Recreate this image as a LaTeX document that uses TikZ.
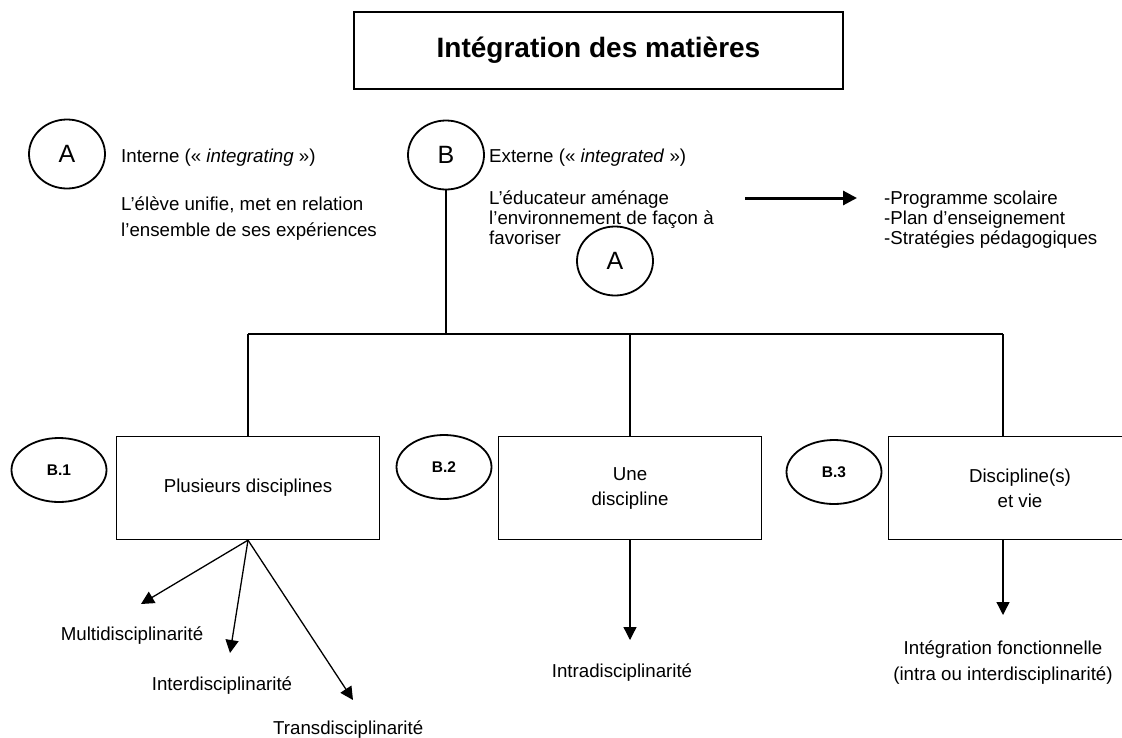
\documentclass[tikz,border=0pt]{standalone}
\usepackage{fontspec}
\setmainfont{Liberation Sans}
\usetikzlibrary{shapes.geometric,arrows.meta}
\begin{document}
\begin{tikzpicture}[x=1pt,y=-1pt,
  txt/.style={font=\fontsize{18.7}{22}\selectfont, inner sep=0pt, anchor=base west},
  ctxt/.style={font=\fontsize{18.7}{22}\selectfont, inner sep=0pt, anchor=base},
  circ/.style={draw, line width=1.8pt, ellipse, minimum width=76pt, minimum height=69pt, inner sep=0pt, font=\fontsize{25}{25}\selectfont},
  tag/.style={draw, line width=1.8pt, ellipse, minimum width=95pt, minimum height=64pt, inner sep=0pt, font=\bfseries\fontsize{15.5}{15.5}\selectfont},
  box/.style={draw, line width=1.3pt, minimum width=263pt, minimum height=103pt, align=center, inner sep=0pt, font=\fontsize{18.7}{25}\selectfont},
  conn/.style={line width=1.3pt},
  arr/.style={line width=1.3pt, -{Triangle[length=13pt,width=13pt]}},
]
\useasboundingbox (0,0) rectangle (1122,737);
\fill[white] (0,0) rectangle (1122,737);

% title
\node[draw, line width=1.5pt, minimum width=489pt, minimum height=77pt, inner sep=0pt,
      font=\bfseries\fontsize{28}{28}\selectfont] (title) at (598.5,50.5) {Intégration des matières};

% A : interne
\node[circ] (A) at (67,154) {A};
\node[txt] (interne) at (121,162) {Interne (« \textit{integrating} »)};
\node[txt] (eleve1) at (121,210) {L’élève unifie, met en relation};
\node[txt] (eleve2) at (121,236) {l’ensemble de ses expériences};

% B : externe
\node[circ] (B) at (446,155) {B};
\node[txt] (externe) at (489,162) {Externe (« \textit{integrated} »)};
\node[txt] (educ1) at (489,204) {L’éducateur aménage};
\node[txt] (educ2) at (489,224) {l’environnement de façon à};
\node[txt] (educ3) at (489,244) {favoriser};
\node[circ] (A2) at (615,261) {A};

\coordinate (arrS) at (745,198);
\coordinate (arrE) at (857,198);
\draw[line width=3pt, -{Triangle[length=14pt,width=14pt]}] (arrS) -- (arrE);
\node[txt] (prog1) at (884,204) {-Programme scolaire};
\node[txt] (prog2) at (884,224) {-Plan d’enseignement};
\node[txt] (prog3) at (884,244) {-Stratégies pédagogiques};

% tree
\coordinate (busL) at (248,334);
\coordinate (busM) at (630,334);
\coordinate (busR) at (1003,334);
\draw[conn] (B.south) -- (B.south |- busL);
\draw[conn] (busL) -- (busR);

\node[box] (box1) at (248,488) {Plusieurs disciplines};
\node[box] (box2) at (630,488) {Une\\discipline};
\node[box] (box3) at (1020,488) {Discipline(s)\\et vie};

\draw[conn] (busL) -- (busL |- box1.north);
\draw[conn] (busM) -- (busM |- box2.north);
\draw[conn] (busR) -- (busR |- box3.north);

\node[tag] (b1) at (59,470) {B.1};
\node[tag] (b2) at (444,467) {B.2};
\node[tag] (b3) at (834,472) {B.3};

% outcomes
\coordinate (m1) at (141,604);
\coordinate (m2) at (230,653);
\coordinate (m3) at (353,700);
\draw[arr] (box1.south) -- (m1);
\draw[arr] (box1.south) -- (m2);
\draw[arr] (box1.south) -- (m3);
\node[ctxt] (multi) at (132,640) {Multidisciplinarité};
\node[ctxt] (inter) at (222,690) {Interdisciplinarité};
\node[txt] (trans) at (273,734) {Transdisciplinarité};

\coordinate (i1) at (630,640);
\draw[arr] (busM |- box2.south) -- (i1);
\node[ctxt] (intra) at (622,677) {Intradisciplinarité};

\coordinate (f1) at (1003,615);
\draw[arr] (busR |- box3.south) -- (f1);
\node[ctxt] (fonc1) at (1003,654) {Intégration fonctionnelle};
\node[ctxt] (fonc2) at (1003,680) {(intra ou interdisciplinarité)};
\end{tikzpicture}
\end{document}
